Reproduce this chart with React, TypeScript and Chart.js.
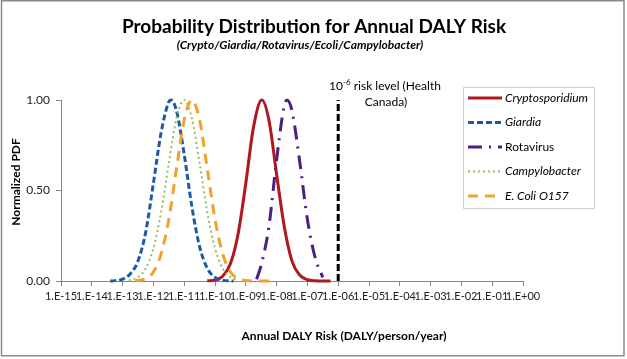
import { useEffect, useRef } from "react";
import { Chart, registerables } from "chart.js";

Chart.register(...registerables);

// Tick exponents and labels of the logarithmic x axis
const tickExponents = [-15, -14, -13, -12, -11, -10, -9, -8, -7, -6, -5, -4, -3, -2, -1, 0];
const tickLabels = [
  "1.E-15", "1.E-14", "1.E-13", "1.E-12", "1.E-11", "1.E-10", "1.E-09", "1.E-08",
  "1.E-07", "1.E-06", "1.E-05", "1.E-04", "1.E-03", "1.E-02", "1.E-01", "1.E+00",
];

// Series (x given as log10 of annual DALY risk)
const cryptoExp = [-10.25, -10.0, -9.75, -9.5, -9.25, -9.0, -8.75, -8.48, -8.25, -8.0, -7.75, -7.5, -7.25, -7.0, -6.75, -6.5, -6.25];
const cryptoPdf = [0.001, 0.005, 0.026, 0.095, 0.26, 0.54, 0.85, 1.0, 0.89, 0.59, 0.3, 0.11, 0.033, 0.007, 0.001, 0, 0];

const giardiaExp = [-13.4, -13.25, -13.0, -12.75, -12.5, -12.25, -12.0, -11.75, -11.5, -11.43, -11.25, -11.0, -10.75, -10.5, -10.25, -10.0, -9.75, -9.4];
const giardiaPdf = [0.0, 0.002, 0.01, 0.04, 0.11, 0.27, 0.54, 0.82, 0.99, 1.0, 0.94, 0.7, 0.41, 0.19, 0.07, 0.02, 0.005, 0.0];

const rotaExp = [-8.65, -8.5, -8.25, -8.0, -7.75, -7.66, -7.5, -7.25, -7.0, -6.75, -6.5];
const rotaPdf = [0.01, 0.087, 0.3, 0.67, 0.97, 1.0, 0.94, 0.66, 0.34, 0.13, 0.02];

const campyExp = [-12.8, -12.5, -12.25, -12.0, -11.75, -11.5, -11.25, -11.0, -10.75, -10.5, -10.25, -10.0, -9.75, -9.5, -9.25];
const campyPdf = [0.003, 0.021, 0.069, 0.18, 0.38, 0.65, 0.9, 1.0, 0.9, 0.65, 0.38, 0.18, 0.069, 0.021, 0.005];

const ecoliExp = [-12.6, -12.25, -12.0, -11.75, -11.5, -11.25, -11.0, -10.75, -10.5, -10.25, -10.0, -9.75, -9.5, -9.25, -9.0, -8.5, -8.1];
const ecoliPdf = [0.0, 0.013, 0.05, 0.15, 0.34, 0.62, 0.89, 1.0, 0.89, 0.62, 0.34, 0.15, 0.05, 0.013, 0.003, 0, 0];

// Health Canada reference level
const refExp = [-6, -6];
const refPdf = [0, 1];

const seriesNames = ["Cryptosporidium", "Giardia", "Rotavirus", "Campylobacter", "E. Coli O157"];

const RED = "#B0171F";
const BLUE = "#1D5AA6";
const PURPLE = "#4B1E8A";
const GREEN = "#92C05A";
const ORANGE = "#F2A22C";

const FONT = "Lato, 'Open Sans', sans-serif";

const toPts = (ex: number[], ys: number[]) => ex.map((e, i) => ({ x: Math.pow(10, e), y: ys[i] }));

const legendItems = [
  { name: seriesNames[0], color: RED, dash: [] as number[], width: 3, italic: true },
  { name: seriesNames[1], color: BLUE, dash: [6, 3], width: 3, italic: true },
  { name: seriesNames[2], color: PURPLE, dash: [14, 7, 2, 7], width: 3, italic: false },
  { name: seriesNames[3], color: GREEN, dash: [2, 3], width: 2, italic: true },
  { name: seriesNames[4], color: ORANGE, dash: [10, 7], width: 3, italic: true },
];

const decorPlugin = {
  id: "decor",
  afterDraw(chart: any) {
    const ctx = chart.ctx as CanvasRenderingContext2D;
    ctx.save();
    // outer frame
    ctx.strokeStyle = "#8a8a8a";
    ctx.lineWidth = 1.5;
    ctx.strokeRect(1.5, 0.75, 622.5, 355);

    ctx.fillStyle = "#000";
    ctx.textAlign = "center";
    ctx.textBaseline = "middle";
    ctx.font = `bold 19px ${FONT}`;
    ctx.fillText("Probability Distribution for Annual DALY Risk", 314, 27);
    ctx.font = `italic bold 12px ${FONT}`;
    ctx.fillText("(Crypto/Giardia/Rotavirus/Ecoli/Campylobacter)", 300, 45);

    // axis titles
    ctx.font = `bold 12px ${FONT}`;
    ctx.fillText("Annual DALY Risk (DALY/person/year)", 344, 336);
    ctx.save();
    ctx.translate(16, 182);
    ctx.rotate(-Math.PI / 2);
    ctx.fillText("Normalized PDF", 0, 0);
    ctx.restore();

    // annotation
    ctx.font = `12px ${FONT}`;
    ctx.textAlign = "left";
    const a = "10";
    const sup = "-6";
    const rest = " risk level (Health";
    ctx.font = `12px ${FONT}`;
    const wa = ctx.measureText(a).width;
    const wr = ctx.measureText(rest).width;
    ctx.font = `8px ${FONT}`;
    const ws = ctx.measureText(sup).width;
    const total = wa + ws + wr;
    let x0 = 385 - total / 2;
    ctx.font = `12px ${FONT}`;
    ctx.fillText(a, x0, 86);
    ctx.font = `8px ${FONT}`;
    ctx.fillText(sup, x0 + wa, 82);
    ctx.font = `12px ${FONT}`;
    ctx.fillText(rest, x0 + wa + ws, 86);
    ctx.textAlign = "center";
    ctx.fillText("Canada)", 386, 102);

    // legend
    ctx.fillStyle = "#fff";
    ctx.fillRect(463, 87, 131, 121);
    ctx.strokeStyle = "#d0d0d0";
    ctx.lineWidth = 1;
    ctx.strokeRect(463.5, 87.5, 131, 121);
    legendItems.forEach((it, i) => {
      const y = 98 + i * 24.5;
      ctx.strokeStyle = it.color;
      ctx.lineWidth = it.width;
      ctx.setLineDash(it.dash);
      ctx.beginPath();
      ctx.moveTo(468, y);
      ctx.lineTo(502, y);
      ctx.stroke();
      ctx.setLineDash([]);
      ctx.fillStyle = "#000";
      ctx.textAlign = "left";
      ctx.font = `${it.italic ? "italic " : ""}12px ${FONT}`;
      ctx.fillText(it.name, 505, y);
    });
    ctx.restore();
  },
};

export default function App() {
  const ref = useRef<HTMLCanvasElement | null>(null);
  useEffect(() => {
    document.body.style.margin = "0";
    const canvas = ref.current;
    if (!canvas) return;
    const common = { showLine: true, pointRadius: 0, pointHoverRadius: 0, fill: false, clip: 6, cubicInterpolationMode: "monotone" as const };
    const chart = new Chart(canvas, {
      type: "scatter",
      data: {
        datasets: [
          { ...common, label: "10-6", data: toPts(refExp, refPdf), borderColor: "#000", borderWidth: 3, borderDash: [7, 3], cubicInterpolationMode: "default" as const },
          { ...common, label: seriesNames[4], data: toPts(ecoliExp, ecoliPdf), borderColor: ORANGE, borderWidth: 3, borderDash: [10, 7] },
          { ...common, label: seriesNames[3], data: toPts(campyExp, campyPdf), borderColor: GREEN, borderWidth: 2, borderDash: [2, 3] },
          { ...common, label: seriesNames[1], data: toPts(giardiaExp, giardiaPdf), borderColor: BLUE, borderWidth: 3, borderDash: [6, 3] },
          { ...common, label: seriesNames[2], data: toPts(rotaExp, rotaPdf), borderColor: PURPLE, borderWidth: 3, borderDash: [14, 7, 2, 7] },
          { ...common, label: seriesNames[0], data: toPts(cryptoExp, cryptoPdf), borderColor: RED, borderWidth: 3 },
        ],
      },
      options: {
        animation: false,
        responsive: false,
        maintainAspectRatio: false,
        layout: { padding: { top: 100, right: 104, left: 0, bottom: 0 } },
        plugins: { legend: { display: false }, tooltip: { enabled: false }, title: { display: false } },
        scales: {
          x: {
            type: "logarithmic",
            min: 1e-15,
            max: 1,
            afterBuildTicks: (scale: any) => {
              scale.ticks = tickExponents.map((e) => ({ value: Math.pow(10, e) }));
            },
            afterFit: (scale: any) => {
              scale.height = 78;
            },
            grid: { display: true, drawOnChartArea: false, drawTicks: true, tickLength: 5, color: "#868686" },
            border: { display: true, color: "#868686", width: 1 },
            ticks: {
              autoSkip: false,
              maxRotation: 0,
              minRotation: 0,
              padding: 4,
              color: "#222",
              font: { family: FONT, size: 11 },
              callback: (_v: any, i: number) => tickLabels[i],
            },
          },
          y: {
            type: "linear",
            min: 0,
            max: 1,
            afterFit: (scale: any) => {
              scale.width = 61;
            },
            grid: { display: true, drawOnChartArea: false, drawTicks: true, tickLength: 5, color: "#868686" },
            border: { display: true, color: "#868686", width: 1 },
            ticks: {
              stepSize: 0.5,
              padding: 6,
              color: "#222",
              font: { family: FONT, size: 12 },
              callback: (v: any) => Number(v).toFixed(2),
            },
          },
        },
      },
      plugins: [decorPlugin],
    });
    return () => chart.destroy();
  }, []);
  return (
    <div style={{ width: 627, height: 359, position: "relative", background: "#fff" }}>
      <canvas ref={ref} width={627} height={359} style={{ display: "block", width: 627, height: 359 }} />
    </div>
  );
}
